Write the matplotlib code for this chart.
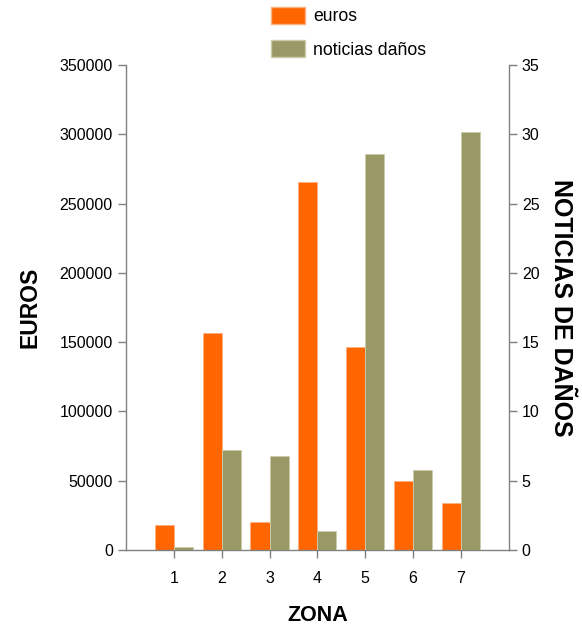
import matplotlib.pyplot as plt
import matplotlib.patches as mpatches
import numpy as np

plt.rcParams['font.family'] = ['Liberation Sans', 'DejaVu Sans']

# data
zonas = [1, 2, 3, 4, 5, 6, 7]
euros = [18000, 157000, 20000, 266000, 146500, 49800, 34000]
noticias = [0.2, 7.2, 6.8, 1.4, 28.6, 5.8, 30.2]

c_euros = '#FF6600'
c_noticias = '#999966'
gris = '#808080'

fig = plt.figure(figsize=(5.82, 6.27), dpi=100)
ax = fig.add_axes([0.2165, 0.1228, 0.874 - 0.2165, 0.896 - 0.1228])
ax2 = ax.twinx()

x = np.array(zonas)
w = 0.4
ax.bar(x - w / 2, euros, width=w, color=c_euros, edgecolor='#FFB080', linewidth=0.6)
ax2.bar(x + w / 2, noticias, width=w, color=c_noticias, edgecolor='#CCCCAA', linewidth=0.6)

ax.set_xlim(0, 8)
ax.set_ylim(0, 350000)
ax2.set_ylim(0, 35)
ax.set_yticks(np.arange(0, 350001, 50000))
ax2.set_yticks(np.arange(0, 36, 5))
ax.set_xticks(zonas)

for a in (ax, ax2):
    a.spines['top'].set_visible(False)
    for s in a.spines.values():
        s.set_color(gris)
        s.set_linewidth(1)
    a.tick_params(colors=gris, labelcolor='black', labelsize=11.5, length=6, width=1)
ax.spines['right'].set_visible(False)
ax2.spines['left'].set_visible(False)
ax2.spines['bottom'].set_visible(False)
ax.tick_params(axis='x', length=6, pad=9)

ax.set_xlabel('ZONA', fontsize=15.5, fontweight='bold', labelpad=14)
ax.set_ylabel('EUROS', fontsize=16.5, fontweight='bold', labelpad=13)
ax2.set_ylabel('NOTICIAS DE DAÑOS', fontsize=18, fontweight='bold', rotation=-90, labelpad=24)

handles = [mpatches.Patch(facecolor=c_euros, edgecolor='#FFB080', label='euros'),
           mpatches.Patch(facecolor=c_noticias, edgecolor='#CCCCAA', label='noticias daños')]
fig.legend(handles=handles, loc='upper left', bbox_to_anchor=(0.438, 1.014), frameon=False,
           fontsize=12.7, handlelength=1.95, handleheight=1.08, labelspacing=0.85, handletextpad=0.45)

plt.savefig('out.png', dpi=100)
